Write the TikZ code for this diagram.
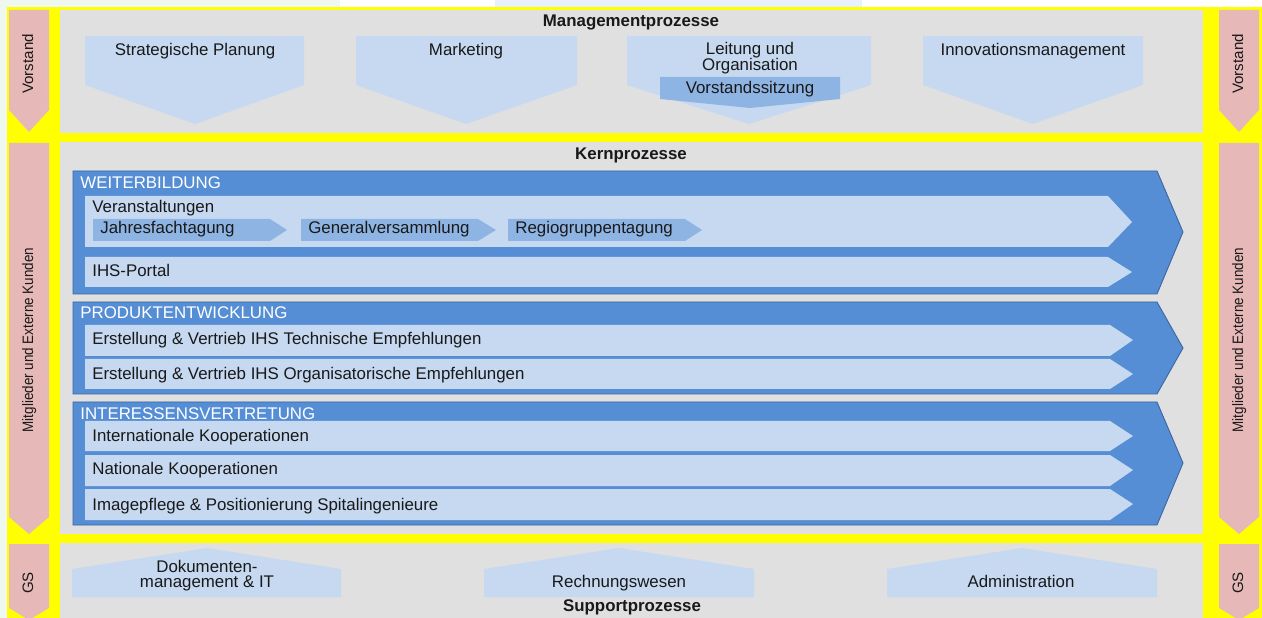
\documentclass[tikz,border=0pt]{standalone}
\usepackage{fontspec}
\setmainfont{Liberation Sans}
\definecolor{frameyellow}{HTML}{FFFF00}
\definecolor{panelgrey}{HTML}{E0E0E0}
\definecolor{sidepink}{HTML}{E6B9B8}
\definecolor{lightproc}{HTML}{C6D9F1}
\definecolor{midproc}{HTML}{8EB4E3}
\definecolor{coreblue}{HTML}{558ED5}
\definecolor{coreline}{HTML}{3B64A0}
\definecolor{bggreen}{HTML}{EFF8EF}
\definecolor{bgblue}{HTML}{E8F0FC}
\tikzset{
  txt/.style={font=\fontsize{9.6}{11}\selectfont, text=black!90, inner sep=0pt},
  headtxt/.style={txt, font=\fontsize{9.6}{11}\selectfont\bfseries},
  captxt/.style={txt, text=white},
  sidetxt/.style={font=\fontsize{8.6}{10}\selectfont, text=black!90, inner sep=0pt, rotate=90, anchor=base},
  corebox/.style={fill=coreblue, draw=coreline, line width=0.5pt},
}

\begin{document}
\begin{tikzpicture}[x=0.02cm, y=-0.02cm]
  \useasboundingbox (0,0) rectangle (1262,618);
  \fill[bggreen] (0,0) rectangle (1262,618);
  \fill[white] (340,0) rectangle (495,7);
  \fill[bgblue] (495,0) rectangle (862,7);
  \fill[white] (862,0) rectangle (1262,7);
  \fill[frameyellow] (7,7) rectangle (1262,618);

  % Seitenpfeile
  \fill[sidepink] (9,10) -- (49,10) -- (49,110) -- (29,132) -- (9,110) -- cycle;
  \fill[sidepink] (9,143) -- (49,143) -- (49,517) -- (29,534) -- (9,517) -- cycle;
  \fill[sidepink] (9,544) -- (49,544) -- (49,608) -- (29,620) -- (9,608) -- cycle;
  \fill[sidepink] (1219,10) -- (1259,10) -- (1259,110) -- (1239,132) -- (1219,110) -- cycle;
  \fill[sidepink] (1219,143) -- (1259,143) -- (1259,517) -- (1239,534) -- (1219,517) -- cycle;
  \fill[sidepink] (1219,544) -- (1259,544) -- (1259,608) -- (1239,620) -- (1219,608) -- cycle;

  \node[sidetxt] (vorstL) at (33,64) {Vorstand};
  \node[sidetxt] (kundL) at (33,340) {\scalebox{0.89}[1]{Mitglieder und Externe Kunden}};
  \node[sidetxt] (gsL) at (33,583) {GS};
  \node[sidetxt] (vorstR) at (1243,64) {Vorstand};
  \node[sidetxt] (kundR) at (1243,340) {\scalebox{0.89}[1]{Mitglieder und Externe Kunden}};
  \node[sidetxt] (gsR) at (1243,583) {GS};

  % Felder
  \fill[panelgrey] (60,10) rectangle (1203,133);
  \fill[panelgrey] (60,142) rectangle (1203,534);
  \fill[panelgrey] (60,543) rectangle (1203,618);

  % Managementprozesse
  \node[headtxt, anchor=base] (mgmt) at (631,27) {Managementprozesse};
  \fill[lightproc] (85,36) -- (304,36) -- (304,85) -- (195,124) -- (85,85) -- cycle;
  \fill[lightproc] (356,36) -- (577,36) -- (577,85) -- (466,124) -- (356,85) -- cycle;
  \fill[lightproc] (627,36) -- (871,36) -- (871,85) -- (749,124) -- (627,85) -- cycle;
  \fill[lightproc] (923,36) -- (1143,36) -- (1143,85) -- (1033,124) -- (923,85) -- cycle;
  \fill[midproc] (660,77) -- (840,77) -- (840,99) -- (750,108) -- (660,99) -- cycle;
  \node[txt, anchor=base] (strat) at (195,56) {Strategische Planung};
  \node[txt, anchor=base] (mark) at (466,56) {Marketing};
  \node[txt, anchor=base] (leit) at (750,55) {Leitung und};
  \node[txt, anchor=base] (orga) at (750,71) {Organisation};
  \node[txt, anchor=base] (sitz) at (750,94) {Vorstandssitzung};
  \node[txt, anchor=base] (inno) at (1033,56) {Innovationsmanagement};

  % Kernprozesse
  \node[headtxt, anchor=base] (kern) at (631,160) {Kernprozesse};

  \filldraw[corebox] (73,171) -- (1157,171) -- (1183,232) -- (1157,294) -- (73,294) -- cycle;
  \fill[lightproc] (85,196) -- (1108,196) -- (1132,222) -- (1108,247) -- (85,247) -- cycle;
  \fill[lightproc] (85,257) -- (1108,257) -- (1132,272) -- (1108,287) -- (85,287) -- cycle;
  \fill[midproc] (93,219) -- (270,219) -- (287,230) -- (270,241) -- (93,241) -- cycle;
  \fill[midproc] (301,219) -- (478,219) -- (496,230) -- (478,241) -- (301,241) -- cycle;
  \fill[midproc] (508,219) -- (685,219) -- (702,230) -- (685,241) -- (508,241) -- cycle;
  \node[captxt, anchor=base west] (weiter) at (80,189) {WEITERBILDUNG};
  \node[txt, anchor=base west] (veran) at (92,213) {Veranstaltungen};
  \node[txt, anchor=base west] (jahr) at (100,234) {Jahresfachtagung};
  \node[txt, anchor=base west] (gv) at (308,234) {Generalversammlung};
  \node[txt, anchor=base west] (regio) at (515,234) {Regiogruppentagung};
  \node[txt, anchor=base west] (portal) at (92,277) {IHS-Portal};

  \filldraw[corebox] (73,302) -- (1157,302) -- (1183,348) -- (1157,394) -- (73,394) -- cycle;
  \fill[lightproc] (85,325) -- (1110,325) -- (1133,340) -- (1110,356) -- (85,356) -- cycle;
  \fill[lightproc] (85,359) -- (1110,359) -- (1133,374) -- (1110,389) -- (85,389) -- cycle;
  \node[captxt, anchor=base west] (produkt) at (80,319) {PRODUKTENTWICKLUNG};
  \node[txt, anchor=base west] (techn) at (92,345) {Erstellung \& Vertrieb IHS Technische Empfehlungen};
  \node[txt, anchor=base west] (organ) at (92,379) {Erstellung \& Vertrieb IHS Organisatorische Empfehlungen};

  \filldraw[corebox] (73,402) -- (1157,402) -- (1183,463) -- (1157,525) -- (73,525) -- cycle;
  \fill[lightproc] (85,421) -- (1110,421) -- (1133,436) -- (1110,451) -- (85,451) -- cycle;
  \fill[lightproc] (85,455) -- (1110,455) -- (1133,470) -- (1110,486) -- (85,486) -- cycle;
  \fill[lightproc] (85,489) -- (1110,489) -- (1133,504) -- (1110,520) -- (85,520) -- cycle;
  \node[captxt, anchor=base west] (interess) at (80,419) {INTERESSENSVERTRETUNG};
  \node[txt, anchor=base west] (intern) at (92,441) {Internationale Kooperationen};
  \node[txt, anchor=base west] (nation) at (92,475) {Nationale Kooperationen};
  \node[txt, anchor=base west] (image) at (92,510) {Imagepflege \& Positionierung Spitalingenieure};

  % Supportprozesse
  \fill[lightproc] (72,597) -- (72,569) -- (207,548) -- (341,569) -- (341,597) -- cycle;
  \fill[lightproc] (484,597) -- (484,569) -- (619,548) -- (754,569) -- (754,597) -- cycle;
  \fill[lightproc] (887,597) -- (887,569) -- (1022,548) -- (1157,569) -- (1157,597) -- cycle;
  \node[txt, anchor=base] (doku) at (207,572) {Dokumenten-};
  \node[txt, anchor=base] (dokuit) at (207,587) {management \& IT};
  \node[txt, anchor=base] (rechn) at (619,587) {Rechnungswesen};
  \node[txt, anchor=base] (admin) at (1021,587) {Administration};
  \node[headtxt, anchor=base] (support) at (632,611) {Supportprozesse};
\end{tikzpicture}
\end{document}
